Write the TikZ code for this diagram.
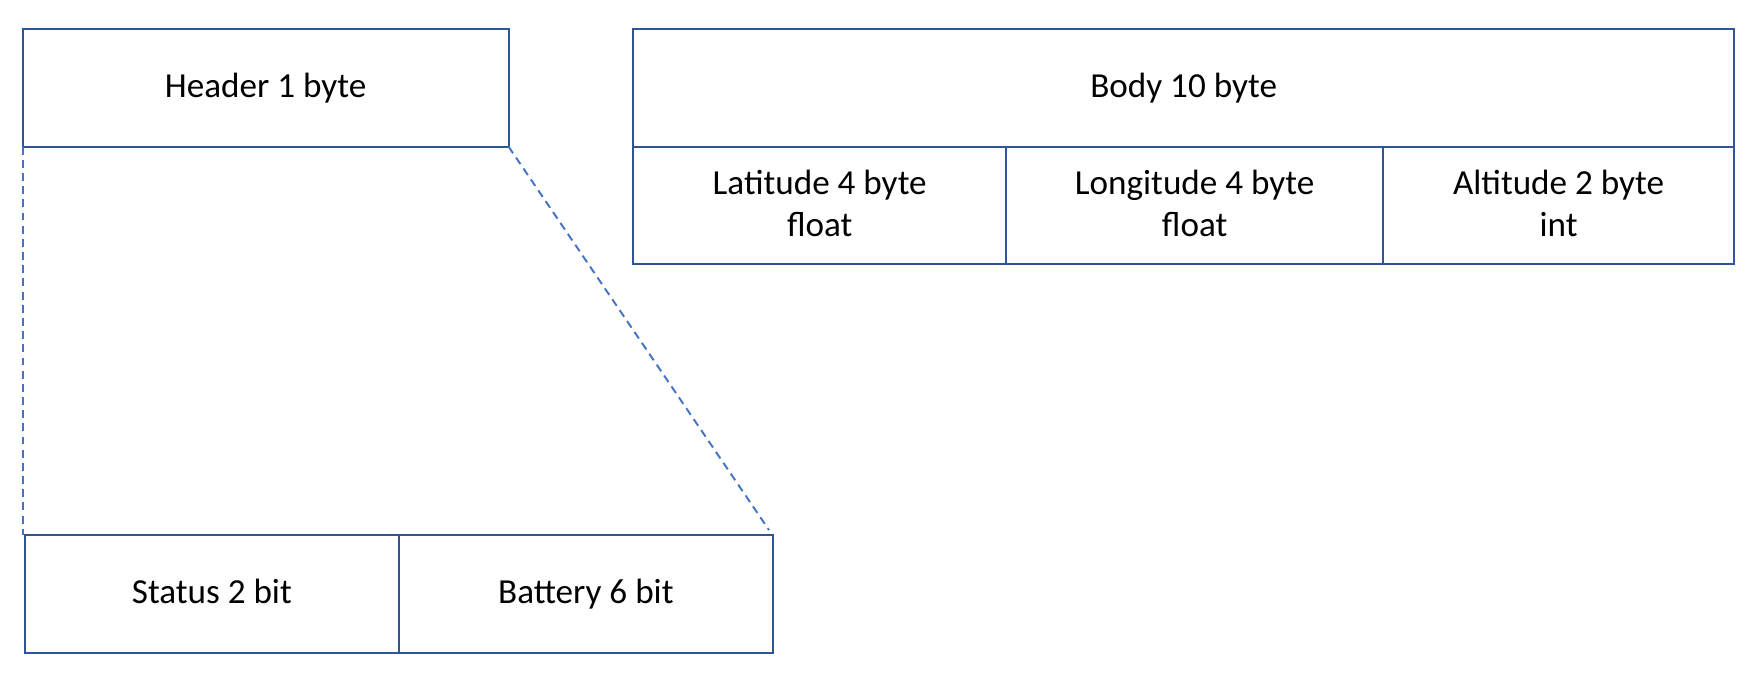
\documentclass[tikz,border=0pt]{standalone}
\usepackage{fontspec}
\setmainfont{Carlito}
\usepackage{tikz}
\usetikzlibrary{positioning}
\definecolor{boxblue}{RGB}{47,85,151}
\definecolor{dashblue}{RGB}{68,114,196}

\begin{document}
\begin{tikzpicture}[x=0.02cm,y=-0.02cm,
  font=\fontsize{20}{24}\selectfont,
  field/.style={draw=boxblue,line width=1.1pt,rectangle,outer sep=0pt,inner sep=0pt,
    minimum height=2.36cm,align=center,text depth=0.1cm},
  zoomline/.style={draw=dashblue,line width=1.1pt,dash pattern=on 4.5pt off 3pt}]
\useasboundingbox (0,0) rectangle (1760,676);
% header and body
\node[field,minimum width=9.72cm,anchor=north west] (header) at (22.7,28.7) {Header 1 byte};
\node[field,minimum width=22.03cm,anchor=north west] (body) at (633,28.7) {Body 10 byte};
\node[field,minimum width=7.47cm,minimum height=2.35cm,anchor=north west] (lat) at (body.south west) {Latitude 4 byte\\float};
\node[field,minimum width=7.53cm,minimum height=2.35cm,right=0pt of lat] (lon) {Longitude 4 byte\\float};
\node[field,minimum width=7.03cm,minimum height=2.35cm,right=0pt of lon] (alt) {Altitude 2 byte\\int};
% header bits
\node[field,minimum width=7.49cm,anchor=north west] (status) at (24.7,534.7) {Status 2 bit};
\node[field,minimum width=7.47cm,right=0pt of status] (battery) {Battery 6 bit};
\coordinate (sw) at (22.7,534.7);
\coordinate (se) at (769,530);
\draw[zoomline] (header.south west) -- (sw);
\draw[zoomline] (header.south east) -- (se);
\end{tikzpicture}
\end{document}
